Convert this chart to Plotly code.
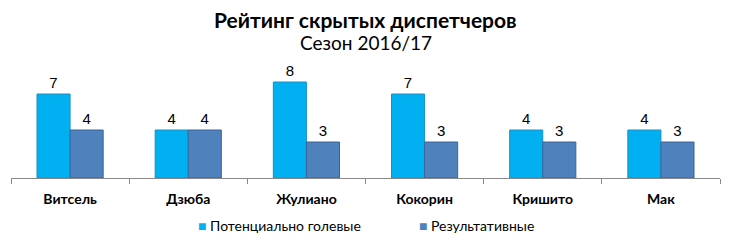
import plotly.graph_objects as go

categories = ["Витсель", "Дзюба", "Жулиано", "Кокорин", "Кришито", "Мак"]
potential = [7, 4, 8, 7, 4, 4]
scored = [4, 4, 3, 3, 3, 3]
series_names = ["Потенциально голевые", "Результативные"]
colors = ["#00B0F0", "#4F81BD"]
edge_colors = ["#1a8fc4", "#3a6599"]

label_font = dict(family="Liberation Sans, Arial", size=15, color="#000")

fig = go.Figure()
for vals, name, c, ec in zip([potential, scored], series_names, colors, edge_colors):
    fig.add_trace(go.Bar(
        x=categories, y=vals, name=name,
        marker=dict(color=c, line=dict(color=ec, width=1)),
        text=vals, textposition="outside", cliponaxis=False,
        textfont=label_font,
    ))

fig.update_layout(
    width=730, height=240,
    margin=dict(l=11, r=10, t=58, b=62),
    paper_bgcolor="white", plot_bgcolor="white",
    barmode="group", bargap=0.44, bargroupgap=0,
    showlegend=False,
)

fig.add_annotation(text="<b>Рейтинг скрытых диспетчеров</b>", xref="paper", yref="paper",
                   x=0.5, y=1, yshift=58 - 19, xanchor="center", yanchor="middle", showarrow=False,
                   font=dict(family="Lato, Noto Sans", size=21, color="#000"))
fig.add_annotation(text="Сезон 2016/17", xref="paper", yref="paper",
                   x=0.5, y=1, yshift=58 - 42, xanchor="center", yanchor="middle", showarrow=False,
                   font=dict(family="Lato, Noto Sans", size=19, color="#000"))

# legend drawn as text entries with coloured squares
legend_x = [0.261, 0.572]
for name, c, lx in zip(series_names, colors, legend_x):
    fig.add_annotation(text=f"<span style='color:{c}'>■</span> {name}", xref="paper", yref="paper",
                       x=lx, y=0, yshift=-47, xanchor="left", yanchor="middle", showarrow=False,
                       font=dict(family="Lato, Noto Sans", size=14, color="#000"))

fig.update_xaxes(showline=True, linecolor="#888", linewidth=1,
                 ticks="outside", ticklen=5, tickcolor="#888", tickson="boundaries",
                 tickfont=dict(family="Lato, Noto Sans", size=14, color="#000", weight="bold"),
                 showgrid=False, automargin=False, ticklabelstandoff=8)
fig.update_yaxes(range=[0, 10], visible=False, showgrid=False, automargin=False)

fig.write_html("out.html")
